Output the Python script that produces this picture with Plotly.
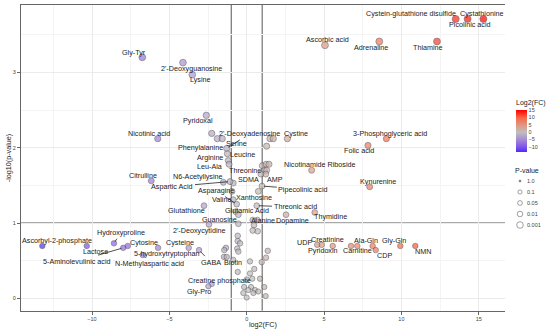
import plotly.graph_objects as go

# ---------------- data ----------------
metabolites = ["Gly-Tyr", "2'-Deoxyguanosine", "Lysine", "Pyridoxal", "Nicotinic acid",
               "Phenylalanine", "Serine", "2'-Deoxyadenosine", "Arginine", "Leucine", "Leu-Ala",
               "Cystine", "Ascorbic acid", "Adrenaline", "Thiamine", "Cystein-glutathione disulfide",
               "Picolinic acid", "Cystathionine", "3-Phosphoglyceric acid", "Folic acid",
               "Nicotinamide Riboside", "Kynurenine", "Thymidine", "Dopamine", "Threonic acid",
               "Pipecolinic acid", "AMP", "Threonine", "SDMA", "N6-Acetyllysine", "Aspartic Acid",
               "Xanthosine", "Valine", "Asparagine", "Glutamic Acid", "Guanosine", "Alanine",
               "Glutathione", "2'-Deoxycytidine", "Citrulline", "Ascorbyl-2-phosphate", "Lactose",
               "Hydroxyproline", "Cytosine", "5-Aminolevulinic acid", "N-Methylaspartic acid",
               "5-hydroxytryptophan", "Cysteine", "GABA", "Biotin", "Creatine phosphate", "Gly-Pro",
               "UDP", "Pyridoxin", "Creatinine", "Carnitine", "Ala-Gln", "CDP", "Gly-Gln", "NMN"]
log2fc = [-6.75, -4.12, -3.52, -2.61, -5.75,
          -1.90, -1.58, -1.29, -1.25, -1.19, -1.14,
          2.63, 5.06, 8.57, 12.30, 13.51,
          14.28, 15.30, 9.03, 7.84,
          4.20, 7.95, 4.40, 2.54, 0.65,
          0.99, 1.23, 0.92, -0.87, -1.51, -1.08,
          -0.95, -0.87, -0.65, -0.71, -0.54, 0.39,
          -2.76, -2.44, -6.17, -13.21, -10.34,
          -8.58, -7.69, -7.98, -6.72,
          -5.73, -3.75, -3.08, -1.29, -0.58, -2.48,
          4.56, 4.85, 5.56, 7.15, 8.14, 8.34, 9.93, 10.90]
neglog10p = [3.20, 3.13, 2.97, 2.43, 2.12,
             2.12, 2.12, 1.99, 1.92, 1.83, 1.78,
             2.12, 3.36, 3.41, 3.41, 3.71,
             3.71, 3.71, 2.12, 2.03,
             1.70, 1.48, 1.14, 1.11, 1.23,
             1.49, 1.65, 1.65, 1.53, 1.54, 1.55,
             1.42, 1.31, 1.25, 1.15, 1.11, 1.04,
             1.23, 0.98, 1.56, 0.695, 0.695,
             0.73, 0.695, 0.67, 0.575,
             0.67, 0.67, 0.64, 0.55, 0.35, 0.16,
             0.71, 0.71, 0.695, 0.695, 0.695, 0.64, 0.695, 0.695]

other_log2fc = [1.51, 1.72, 1.29, 1.01, 1.25, 1.44, 1.14, 1.29, 0.75, -2.26, -0.54, 0.69, 0.47,
                0.39, 0.71, -0.58, -0.58, -0.43, -1.34, -1.45, -0.61, -0.54, 1.36, 1.25, -0.87,
                0.21, 0.97, 0.49, 0.21, 0.86, 0.36, 0.00, -2.26, -0.17, 0.28, 1.14, 0.10, 0.54,
                0.75, -0.22, 0.43, 0.00, 1.23, 6.74, -1.47]
other_neglog10p = [2.12, 2.12, 2.02, 1.76, 1.78, 1.78, 1.70, 1.70, 1.42, 2.19, 0.99, 1.04, 0.97,
                   0.90, 0.89, 0.83, 0.76, 0.73, 0.67, 0.64, 0.66, 0.62, 0.63, 0.54, 0.51,
                   0.49, 0.48, 0.39, 0.33, 0.26, 0.26, 0.25, 0.19, 0.15, 0.15, 0.15, 0.11, 0.11,
                   0.09, 0.07, 0.07, 0.01, 0.03, 0.695, 0.55]

pvalue_legend = ["1.0", "0.1", "0.05", "0.01", "0.001"]
colorbar_ticks = [15, 10, 5, 0, -5, -10]
x_ticks = [-10, -5, 0, 5, 10, 15]
y_ticks = [0, 1, 2, 3]

# ---------------- label placement (pixel offsets, layout only) ----------------
label_offsets = {
    "Gly-Tyr": (-8.3, -4.6, False), "2'-Deoxyguanosine": (9, 6, False), "Lysine": (8.2, 5.3, False),
    "Pyridoxal": (-8, 5.4, False), "Nicotinic acid": (-8.5, -5, False),
    "Phenylalanine": (-16.5, 9, False), "Serine": (14.4, 5.3, False),
    "2'-Deoxyadenosine": (22.3, -14.6, True), "Arginine": (-17.3, 3.4, False),
    "Leucine": (14.2, -5.5, False), "Leu-Ala": (-19.8, 2.7, False),
    "Cystine": (8.5, -5, False), "Ascorbic acid": (2.7, -5.7, False), "Adrenaline": (-8.6, 5.6, False),
    "Thiamine": (-8.7, 5.6, False), "Cystein-glutathione disulfide": (-44.7, -5, False),
    "Picolinic acid": (2.3, 5.3, False), "Cystathionine": (-1.6, -5, False),
    "3-Phosphoglyceric acid": (3.7, -5, False), "Folic acid": (-9, 5.3, False),
    "Nicotinamide Riboside": (8.3, -5.3, False), "Kynurenine": (8.6, -5.3, False),
    "Thymidine": (15.3, 4.4, False), "Dopamine": (6.3, 6, False),
    "Threonic acid": (38.3, 1.3, True), "Pipecolinic acid": (41.3, 3, True),
    "AMP": (9.3, 5, False), "Threonine": (-16, -4, False), "SDMA": (15, -3.3, False),
    "N6-Acetyllysine": (-25.8, -5.4, False), "Aspartic Acid": (-57.5, 5, True),
    "Xanthosine": (22.2, 6, False), "Valine": (-11.6, 0, False), "Asparagine": (-20.9, -13.6, True),
    "Glutamic Acid": (11, -1.7, False), "Guanosine": (-18.6, 4.3, False), "Alanine": (9.8, 0.7, False),
    "Glutathione": (-17.3, 5.3, False), "2'-Deoxycytidine": (-9, 5.7, False),
    "Citrulline": (-8.6, -5.4, False), "Ascorbyl-2-phosphate": (15, -5, False),
    "Lactose": (8.3, 5.7, False), "Hydroxyproline": (6.7, -10.6, True), "Cytosine": (16.6, -3.7, False),
    "5-Aminolevulinic acid": (-46, 13.3, True), "N-Methylaspartic acid": (6.6, 8, True),
    "5-hydroxytryptophan": (8.7, 5.6, False), "Cysteine": (-8.7, -5.4, False),
    "GABA": (11.7, 12, True), "Biotin": (6.3, 5.6, False), "Creatine phosphate": (-18.5, 8.3, False),
    "Gly-Pro": (-9, 5, False), "UDP": (-12.3, -2.7, False), "Pyridoxin": (1.6, 6, False),
    "Creatinine": (-5, -6, False), "Carnitine": (0, 5, False), "Ala-Gln": (-7, -5.7, False),
    "CDP": (8.6, 5.7, False), "Gly-Gln": (-6.3, -5, False), "NMN": (8, 5.3, False),
}

W, H = 550, 334
PX_L, PX_R, PX_T, PX_B = 21, 505.7, 5, 310.7
FONT = "Liberation Sans, Arial, sans-serif"

CMIN, CMAX = -13.3, 15.3
def pos(v):
    return (v - CMIN) / (CMAX - CMIN)
colorscale = [[0.0, "#4F2BF7"], [pos(-10), "#7D54EB"], [pos(-5), "#A589D6"], [pos(0), "#BEBEBE"],
              [pos(5), "#E29683"], [pos(10), "#F56849"], [1.0, "#FF0000"]]

all_x = other_log2fc + log2fc
all_y = other_neglog10p + neglog10p
sizes = [5.2 + 0.5 * v for v in all_y]

fig = go.Figure()
fig.add_trace(go.Scatter(
    x=all_x, y=all_y, mode="markers", showlegend=False, hoverinfo="skip",
    marker=dict(size=sizes, color=all_x, colorscale=colorscale, cmin=CMIN, cmax=CMAX,
                line=dict(color="#3a3a3a", width=0.6),
                colorbar=dict(title=dict(text="Log2(FC)", side="top", font=dict(size=7, family=FONT, color="#222")),
                              x=516 / W, xanchor="left", xpad=0,
                              y=1 - 124.2 / H, yanchor="middle", ypad=0,
                              len=55, lenmode="pixels", thickness=11, outlinewidth=0,
                              tickvals=colorbar_ticks, ticks="", ticklabelposition="outside",
                              tickfont=dict(size=5.5, family=FONT, color="#444"))),
    xaxis="x", yaxis="y"))

# size legend drawn on an auxiliary pixel axis
leg_sizes = [2, 4.2, 4.8, 5.6, 6.6]
leg_y = [181 + 11 * i for i in range(len(pvalue_legend))]
fig.add_trace(go.Scatter(
    x=[520] * len(pvalue_legend), y=leg_y, mode="markers", showlegend=False, hoverinfo="skip",
    marker=dict(size=leg_sizes, color=["#444", "white", "white", "white", "white"],
                line=dict(color="#444", width=0.7)),
    xaxis="x2", yaxis="y2"))
for lbl, yy in zip(pvalue_legend, leg_y):
    fig.add_annotation(x=524.5, y=yy, xref="x2", yref="y2", text=lbl, showarrow=False,
                       xanchor="left", yanchor="middle", font=dict(size=5.5, family=FONT, color="#444"))
fig.add_annotation(x=526.7, y=170, xref="x2", yref="y2", text="P-value", showarrow=False,
                   xanchor="center", yanchor="middle", font=dict(size=7, family=FONT, color="#222"))

# point labels
for name, xv, yv in zip(metabolites, log2fc, neglog10p):
    dx, dy, arrow = label_offsets[name]
    if arrow:
        fig.add_annotation(x=xv, y=yv, xref="x", yref="y", text=name, showarrow=True,
                           ax=dx, ay=dy, arrowhead=0, arrowwidth=0.8, arrowcolor="#222",
                           standoff=2, font=dict(size=7.2, family=FONT, color="#222"))
    else:
        fig.add_annotation(x=xv, y=yv, xref="x", yref="y", text=name, showarrow=False,
                           xshift=dx, yshift=-dy, font=dict(size=7.2, family=FONT, color="#222"))

# threshold lines
for xv in (-1, 1):
    fig.add_shape(type="line", x0=xv, x1=xv, y0=0, y1=1, xref="x", yref="y domain",
                  line=dict(color="#555", width=1), layer="below")
fig.add_shape(type="line", x0=0, x1=1, y0=1, y1=1, xref="x domain", yref="y",
              line=dict(color="#555", width=1), layer="below")

# axis titles
fig.add_annotation(x=263.3 / W, y=1 - 324.3 / H, xref="paper", yref="paper", text="log2(FC)",
                   xanchor="center", yanchor="middle",
                   showarrow=False, font=dict(size=7.2, family=FONT, color="#222"))
fig.add_annotation(x=9.3 / W, y=1 - 157.9 / H, xref="paper", yref="paper", text="-log10(p-value)",
                   xanchor="center", yanchor="middle",
                   showarrow=False, textangle=-90, font=dict(size=7.2, family=FONT, color="#222"))

x_range = [(PX_L - 246.7) / 15.47, (PX_R - 246.7) / 15.47]
y_range = [(298.3 - PX_B) / 75.3, (298.3 - PX_T) / 75.3]

fig.update_layout(
    width=W, height=H, margin=dict(l=0, r=0, t=0, b=0),
    paper_bgcolor="white", plot_bgcolor="white",
    font=dict(family=FONT),
    xaxis=dict(domain=[PX_L / W, PX_R / W], range=x_range, tickvals=x_ticks,
               showgrid=True, gridcolor="#EBEBEB", gridwidth=0.8, zeroline=False,
               minor=dict(dtick=2.5, tick0=0, showgrid=True, gridcolor="#F4F4F4", gridwidth=0.5),
               showline=True, mirror=True, linecolor="#666", linewidth=1,
               ticks="outside", ticklen=3, tickcolor="#666", tickwidth=0.6,
               tickfont=dict(size=5.5, family=FONT, color="#444"), automargin=False),
    yaxis=dict(domain=[1 - PX_B / H, 1 - PX_T / H], range=y_range, tickvals=y_ticks,
               showgrid=True, gridcolor="#EBEBEB", gridwidth=0.8, zeroline=False,
               minor=dict(dtick=0.5, tick0=0, showgrid=True, gridcolor="#F4F4F4", gridwidth=0.5),
               showline=True, mirror=True, linecolor="#666", linewidth=1,
               ticks="outside", ticklen=3, tickcolor="#666", tickwidth=0.6,
               tickfont=dict(size=5.5, family=FONT, color="#444"), automargin=False),
    xaxis2=dict(domain=[505 / W, 1.0], range=[505, 550], visible=False, anchor="y2", fixedrange=True),
    yaxis2=dict(domain=[0, 1], range=[H, 0], visible=False, anchor="x2", fixedrange=True),
)

fig.write_html("out.html", config={"displayModeBar": False},
               post_script="document.body.style.margin='0';document.body.style.overflow='hidden';")
